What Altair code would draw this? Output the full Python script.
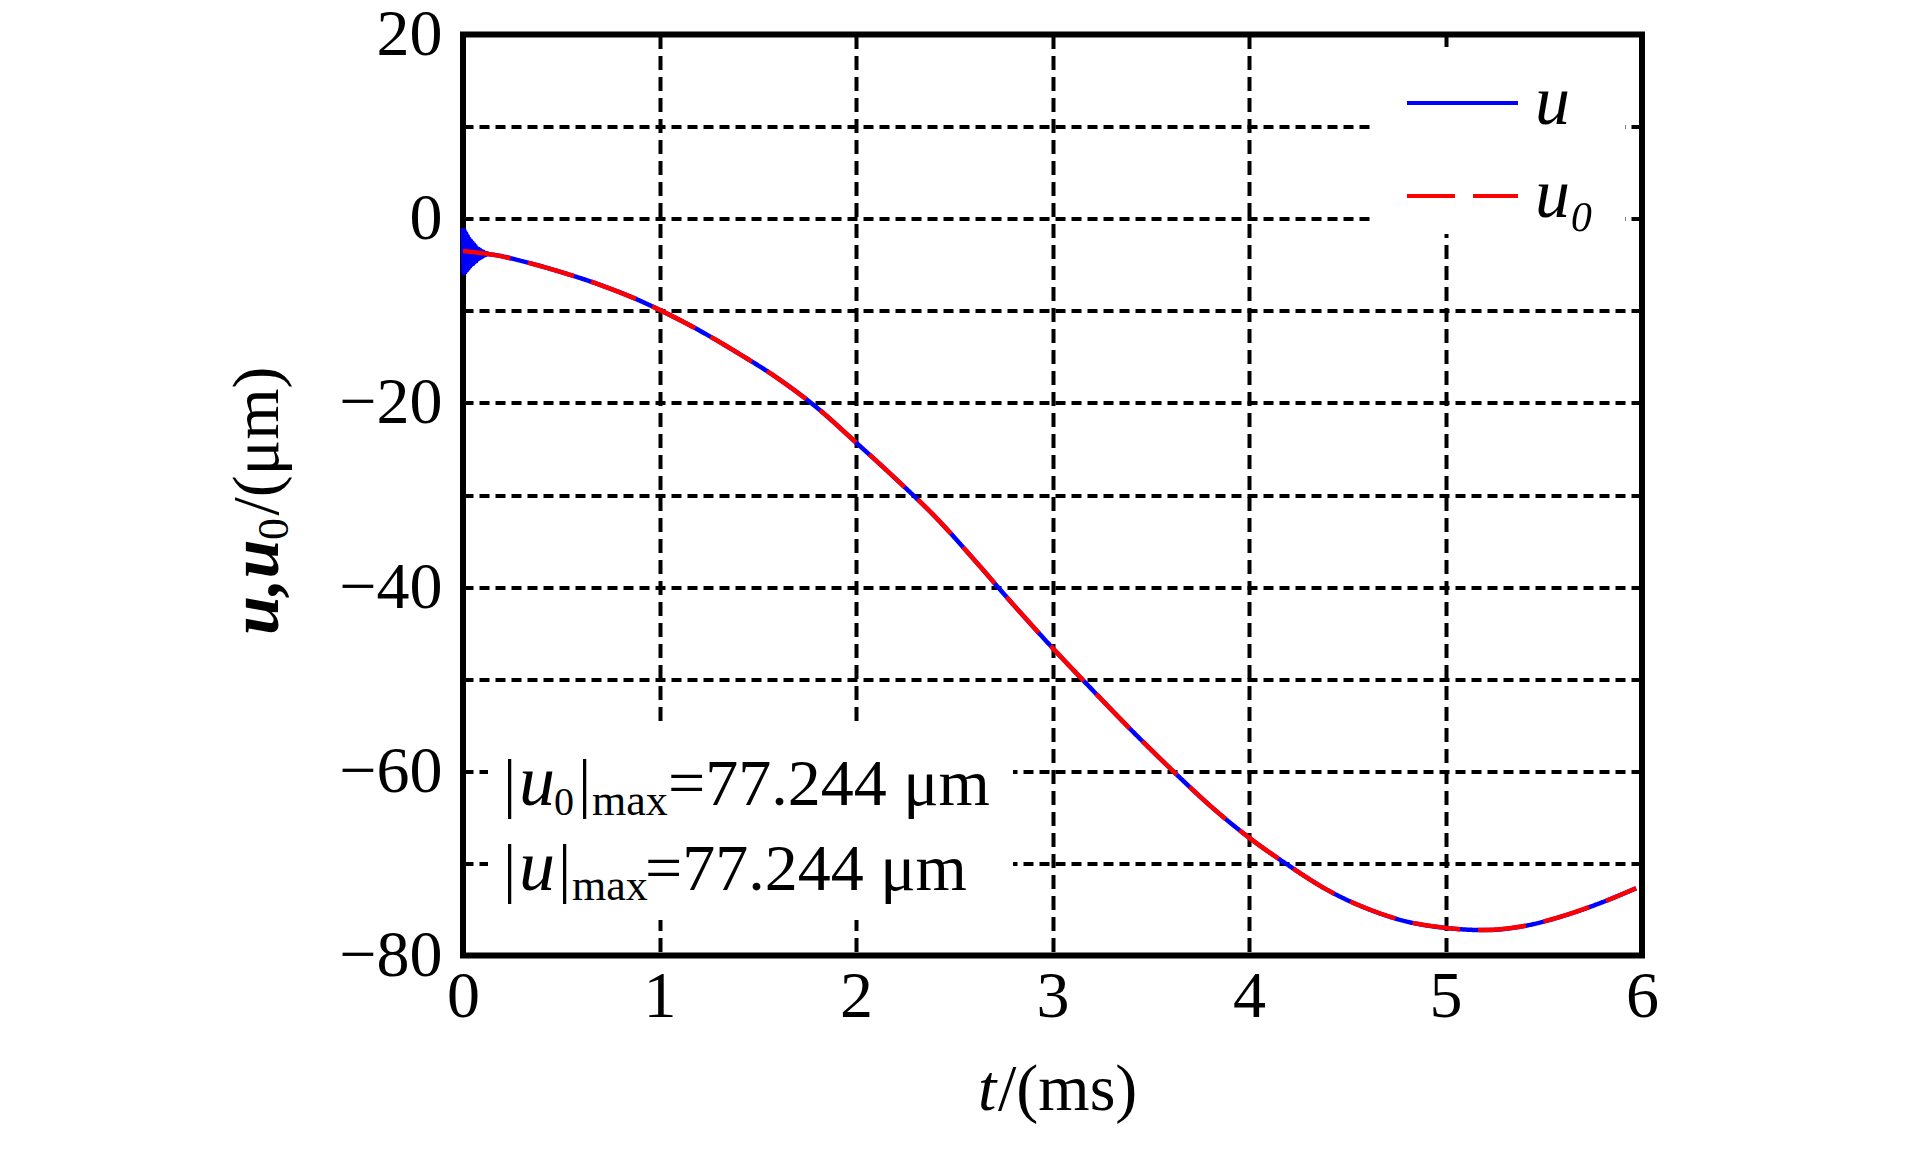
import altair as alt
import pandas as pd

# ---- data ----
t_ms = [0.0, 0.15, 0.3, 0.5, 0.7, 0.9, 1.0, 1.2, 1.4, 1.6, 1.8, 2.0, 2.2, 2.4, 2.6, 2.8,
        3.0, 3.2, 3.4, 3.6, 3.8, 4.0, 4.2, 4.4, 4.6, 4.8, 5.0, 5.2, 5.4, 5.6, 5.8, 5.97]
u0_um = [-3.5, -3.9, -4.6, -5.8, -7.2, -8.9, -9.9, -12.1, -14.6, -17.3, -20.5, -24.3,
         -28.2, -32.3, -37.0, -41.9, -46.6, -51.1, -55.5, -59.7, -63.7, -67.2, -70.2,
         -72.9, -74.9, -76.3, -77.0, -77.244, -76.8, -75.7, -74.2, -72.7]

# initial oscillation of u (before it settles onto u0)
u_early_t = [0.000, 0.004, 0.008, 0.012, 0.016, 0.020, 0.024, 0.028, 0.032, 0.036, 0.040,
             0.044, 0.048, 0.052, 0.056, 0.060, 0.064, 0.068, 0.072, 0.076, 0.080, 0.084,
             0.088, 0.092, 0.096, 0.100, 0.104, 0.108, 0.112, 0.116, 0.120, 0.130]
u_early = [-1.0, -5.9, -1.3, -5.8, -1.6, -5.6, -1.9, -5.4, -2.2, -5.2, -2.4,
           -5.0, -2.6, -4.9, -2.8, -4.7, -3.0, -4.6, -3.2, -4.4, -3.3, -4.3,
           -3.4, -4.2, -3.5, -4.1, -3.6, -4.0, -3.7, -3.95, -3.75, -3.85]

series_names = ["u", "u₀"]
series_colors = ["#0000ff", "#ff0000"]
series_dash = [[1, 0], [48, 18]]

x_ticks = [0, 1, 2, 3, 4, 5, 6]
y_ticks = [-80, -70, -60, -50, -40, -30, -20, -10, 0, 10, 20]

note_value = "77.244"

rows = []
for t, v in zip(u_early_t, u_early):
    rows.append({"t": t, "value": v, "series": series_names[0]})
for t, v in zip(t_ms, u0_um):
    if t > u_early_t[-1]:
        rows.append({"t": t, "value": v, "series": series_names[0]})
    rows.append({"t": t, "value": v, "series": series_names[1]})
df = pd.DataFrame(rows)

FONT = "Liberation Serif"
W, H = 1179, 921

x_enc = alt.X("t:Q", scale=alt.Scale(domain=[0, 6], nice=False, zero=False),
              axis=alt.Axis(values=x_ticks, title=None, grid=True, gridDash=[14, 7],
                            gridColor="black", gridWidth=4, ticks=False, domain=False,
                            labelPadding=9, labelFontSize=66, labelFont=FONT,
                            labelColor="black", labelAngle=0, format="d",
                            labelFlush=False, labelOverlap=False))
y_enc = alt.Y("value:Q", scale=alt.Scale(domain=[-80, 20], nice=False, zero=False),
              axis=alt.Axis(values=y_ticks, title=None, grid=True, gridDash=[10, 6],
                            gridColor="black", gridWidth=4, ticks=False, domain=False,
                            labelPadding=21, labelFontSize=66, labelFont=FONT,
                            labelColor="black", labelOffset=0, labelFlush=False,
                            labelOverlap=False,
                            labelExpr="datum.value % 20 === 0 ? datum.label : ''"))
color_enc = alt.Color("series:N", scale=alt.Scale(domain=series_names, range=series_colors),
                      legend=alt.Legend(title=None))
dash_enc = alt.StrokeDash("series:N", scale=alt.Scale(domain=series_names, range=series_dash),
                          legend=alt.Legend(title=None))

line_u = alt.Chart(df).transform_filter(alt.datum.series == series_names[0]).mark_line(
    strokeWidth=4.5, interpolate="monotone").encode(x=x_enc, y=y_enc, color=color_enc,
                                                    strokeDash=dash_enc)
line_u0 = alt.Chart(df).transform_filter(alt.datum.series == series_names[1]).mark_line(
    strokeWidth=4.5, interpolate="monotone").encode(x=x_enc, y=y_enc, color=color_enc,
                                                    strokeDash=dash_enc)

one = pd.DataFrame({"k": [0]})


def box(x1, x2, y1, y2):
    return alt.Chart(one).mark_rect(color="white", opacity=1).encode(
        x=alt.value(x1), x2=alt.value(x2), y=alt.value(y1), y2=alt.value(y2))


def txt(s, x, y, size, style="normal", weight="normal", angle=0, align="left"):
    return alt.Chart(one).mark_text(
        text=s, fontSize=size, font=FONT, fontStyle=style, fontWeight=weight,
        angle=angle, align=align, baseline="alphabetic", color="black").encode(
        x=alt.value(x), y=alt.value(y))


boxes = [box(25, 550, 693.5, 885.5), box(912, 1162, 12.5, 199.5)]

texts = [
    # annotation line 1: |u0|max=77.244 μm
    txt("|", 40, 770.5, 66),
    txt("u", 56, 770.5, 72, style="italic"),
    txt("0", 91, 780.5, 40),
    txt("|", 115, 770.5, 66),
    txt("max", 129, 780.5, 44),
    txt("=" + note_value + " μm", 205, 770.5, 66),
    # annotation line 2: |u|max=77.244 μm
    txt("|", 40, 855.5, 66),
    txt("u", 56, 855.5, 72, style="italic"),
    txt("|", 95, 855.5, 66),
    txt("max", 109, 865.5, 44),
    txt("=" + note_value + " μm", 182, 855.5, 66),
    # x axis title: t/(ms)
    txt("t", 515, 1075.5, 66, style="italic"),
    txt("/(ms)", 535, 1075.5, 66),
    # y axis title: u,u0/(μm)
    txt("u,u", -185, 600.5, 70, style="italic", weight="bold", angle=270),
    txt("0", -175, 505.5, 44, angle=270),
    txt("/(μm)", -185, 481, 66, angle=270),
]

chart = alt.layer(*boxes, line_u, line_u0, *texts).properties(
    width=W, height=H,
    padding={"left": 455, "top": 26.5, "right": 250, "bottom": 190},
    autosize="none",
    background="white",
).configure_view(
    stroke="black", strokeWidth=6, fill="white"
).configure_legend(
    orient="none", legendX=942, legendY=11, symbolType="stroke", symbolSize=12321,
    symbolStrokeWidth=4, labelFont=FONT, labelFontSize=70, labelFontStyle="italic",
    labelOffset=15, rowPadding=-42, padding=0, labelColor="black"
)

chart.save("out.html", embed_options={"renderer": "svg", "actions": False})
